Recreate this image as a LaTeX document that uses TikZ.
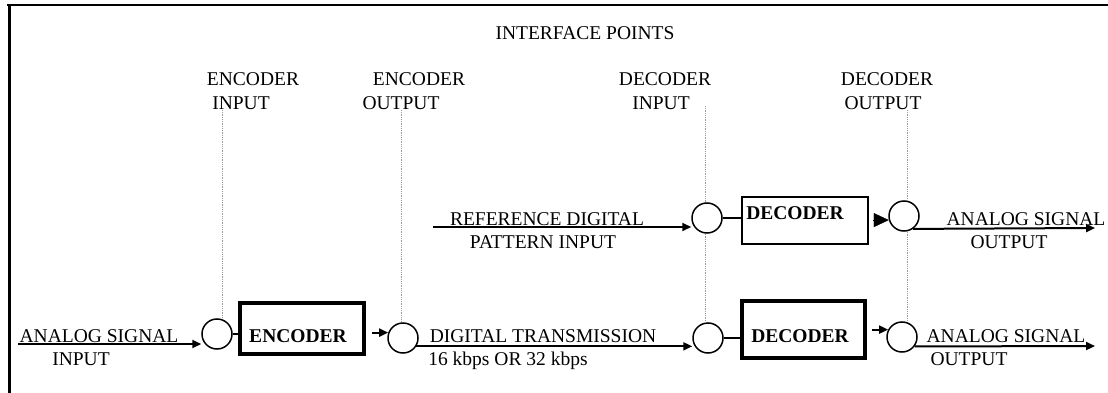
\documentclass[tikz,border=0pt]{standalone}
\usepackage{fontspec}
\setmainfont{Liberation Serif}
\usetikzlibrary{arrows.meta}

\tikzset{
  lbl/.style={inner sep=0pt, text height=12.9pt, text depth=0pt, font=\fontsize{19.5}{22}\selectfont},
  boldlbl/.style={lbl, font=\fontsize{19.5}{22}\selectfont\bfseries},
  port/.style={draw, circle, minimum size=30pt, inner sep=0pt, line width=1.5pt, fill=white},
  block/.style={draw, rectangle, inner sep=0pt},
  sig/.style={line width=2pt, -{Triangle[length=9pt,width=8pt]}},
  tie/.style={line width=2pt},
  guide/.style={densely dotted, gray!80, line width=0.8pt},
}

\begin{document}
\begin{tikzpicture}[x=1pt,y=-1pt]
\useasboundingbox (0,0) rectangle (1108,393);
% frame
\draw[line width=2pt] (7,5) -- (1108,5);
\draw[line width=3pt] (9,4) -- (9,393);

% headings
\node[lbl] (title) at (585,33) {INTERFACE POINTS};
\node[lbl] (encinA) at (253,79) {ENCODER};
\node[lbl] (encinB) at (241,103) {INPUT};
\node[lbl] (encoutA) at (419,79) {ENCODER};
\node[lbl] (encoutB) at (401,103) {OUTPUT};
\node[lbl] (decinA) at (665,79) {DECODER};
\node[lbl] (decinB) at (661,103) {INPUT};
\node[lbl] (decoutA) at (887,79) {DECODER};
\node[lbl] (decoutB) at (883,103) {OUTPUT};

% interface points
\node[port] (c1) at (217,334) {};
\node[port] (c2) at (403,338) {};
\node[port] (c3) at (708,338) {};
\node[port] (c4) at (902,337) {};
\node[port] (c5) at (707,218) {};
\node[port] (c6) at (904,216) {};

% blocks
\node[block, line width=4pt, minimum width=124pt, minimum height=51pt] (enc) at (302,328.5) {};
\node[block, line width=2pt, minimum width=126pt, minimum height=47pt] (dec1) at (805,220.5) {};
\node[block, line width=3.5pt, minimum width=123pt, minimum height=57pt] (dec2) at (803.5,329.5) {};
\node[boldlbl] (enctxt) at (298,336) {ENCODER};
\node[boldlbl] (dec1txt) at (795,213) {DECODER};
\node[boldlbl] (dec2txt) at (800,336) {DECODER};

% signal texts
\node[lbl] (ainA) at (99,336) {ANALOG SIGNAL};
\node[lbl] (ainB) at (81,359) {INPUT};
\node[lbl] (dtA) at (543,336) {DIGITAL TRANSMISSION};
\node[lbl] (dtB) at (508,359) {16 kbps OR 32 kbps};
\node[lbl] (refA) at (547,219) {REFERENCE DIGITAL};
\node[lbl] (refB) at (543,242) {PATTERN INPUT};
\node[lbl] (aoutA) at (1026,219) {ANALOG SIGNAL};
\node[lbl] (aoutB) at (1009,242) {OUTPUT};
\node[lbl] (boutA) at (1006,336) {ANALOG SIGNAL};
\node[lbl] (boutB) at (969,359) {OUTPUT};

% dotted guides
\coordinate (g1) at (222,110);
\coordinate (g2) at (401,110);
\coordinate (g3) at (705,106);
\coordinate (g4) at (907,110);
\draw[guide] (g1) -- (g1 |- c1.north);
\draw[guide] (g2) -- (g2 |- c2.north);
\draw[guide] (g3) -- (g3 |- c5.north);
\draw[guide] (g3 |- c5.south) -- (g3 |- c3.north);
\draw[guide] (g4) -- (g4 |- c6.north);
\draw[guide] (g4 |- c6.south) -- (g4 |- c4.north);

% bottom path
\coordinate (ain) at (18,344);
\draw[sig] (ain) -- (ain -| c1.west);
\draw[tie] (c1.east) -- (c1.east -| enc.west);
\draw[sig] ([xshift=6pt]enc.east |- c2.160) -- (c2.160);
\draw[sig] (c2.-32) -- (c2.-32 -| c3.west);
\draw[tie] (c3.east) -- (c3.east -| dec2.west);
\draw[sig] ([xshift=5pt]dec2.east |- c4.152) -- (c4.152);
\coordinate (bout) at (1095,346);
\draw[sig] (c4.-37) -- (bout);

% top path
\coordinate (ref) at (433,227);
\draw[sig] (ref) -- (ref -| c5.west);
\draw[tie] (c5.east) -- (c5.east -| dec1.west);
\draw[-{Triangle[length=15pt,width=14pt]}] ([xshift=4pt]dec1.east |- c6.195) -- (c6.195);
\coordinate (aout) at (1095,228);
\draw[sig] (c6.-55) -- (aout);
\end{tikzpicture}
\end{document}
